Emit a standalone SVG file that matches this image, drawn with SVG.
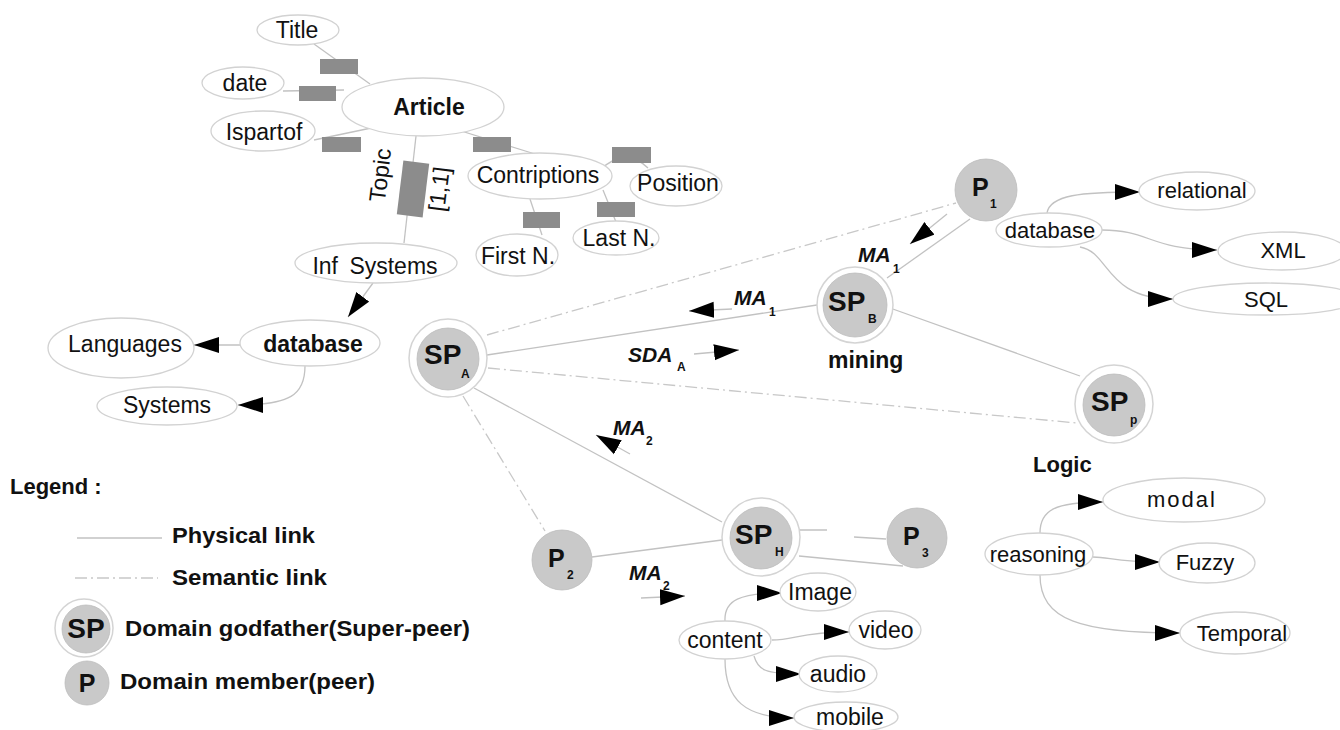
<svg xmlns="http://www.w3.org/2000/svg" width="1340" height="730" viewBox="0 0 1340 730">
<style>
.t{font-family:"Liberation Sans",Arial,sans-serif;font-size:23px;fill:#111}
.r{font-size:22px}
.b{font-weight:bold}
.m{text-anchor:middle}
.ma{font-family:"Liberation Sans",Arial,sans-serif;font-weight:bold;font-style:italic;font-size:21px;fill:#111}
.sub{font-family:"Liberation Sans",Arial,sans-serif;font-weight:bold;font-size:12px;fill:#111}
.ell{fill:#fff;stroke:#d2d2d2;stroke-width:1.3}
.lnk{fill:none;stroke:#c2c2c2;stroke-width:1.3}
.sem{fill:none;stroke:#c8c8c8;stroke-width:1.3;stroke-dasharray:12 4 2 4}
.arr{fill:none;stroke:#c2c2c2;stroke-width:1.3;marker-end:url(#ah)}
.lab{fill:#8c8c8c}
.ring{fill:#fff;stroke:#d4d4d4;stroke-width:1.5}
.core{fill:#c9c9c9;stroke:#bcbcbc;stroke-width:0.8}
.sp{font-family:"Liberation Sans",Arial,sans-serif;font-weight:bold;font-size:28px;fill:#111}
.p{font-family:"Liberation Sans",Arial,sans-serif;font-weight:bold;font-size:25px;fill:#111}
.lg{font-family:"Liberation Sans",Arial,sans-serif;font-weight:bold;font-size:22px;fill:#111}
</style>
<defs>
<marker id="ah" markerUnits="userSpaceOnUse" markerWidth="25" markerHeight="17" viewBox="0 0 25 17" refX="25" refY="8.5" orient="auto">
<path d="M0,0.5 L25,8.5 L0,16.5 Z" fill="#000"/>
</marker>
</defs>
<rect width="1340" height="730" fill="#fff"/>

<g id="connectors">
<!-- article schema -->
<path class="lnk" d="M314,44 L370,84"/>
<path class="lnk" d="M283,91 L344,90"/>
<path class="lnk" d="M314,140 L376,127"/>
<path class="lnk" d="M458,130 L535,154"/>
<path class="lnk" d="M416,136 L404,243"/>
<path class="lnk" d="M600,170 Q625,146 648,168"/>
<path class="lnk" d="M603,190 L616,222"/>
<path class="lnk" d="M530,199 L542,235"/>
<!-- left tree -->
<path class="arr" d="M373,283 L348,317"/>
<path class="arr" d="M240,345 L194,345"/>
<path class="arr" d="M305,366 C305,395 290,405 238,405"/>
<!-- network -->
<path class="lnk" d="M487,355 L817,305"/>
<path class="sem" d="M487,335 L956,203"/>
<path class="sem" d="M488,368 L1077,423"/>
<path class="lnk" d="M474,388 L722,522"/>
<path class="sem" d="M463,396 L545,531"/>
<path class="lnk" d="M970,219 L887,278"/>
<path class="lnk" d="M890,308 L1080,376"/>
<path class="lnk" d="M592,557 L722,540"/>
<path class="lnk" d="M800,530 L827,530 M854,537 L886,539"/>
<path class="lnk" d="M799,556 L903,566"/>
<!-- message arrows -->
<path class="arr" d="M947,214 L910,244"/>
<path class="arr" d="M732,309 L689,311"/>
<path class="arr" d="M694,354 L739,350"/>
<path class="arr" d="M630,454 L596,435"/>
<path class="arr" d="M641,598 L685,596"/>
<!-- database tree -->
<path class="arr" d="M1047,213 C1050,195 1080,192 1140,192"/>
<path class="arr" d="M1102,230 C1150,230 1150,250 1217,250"/>
<path class="arr" d="M1080,247 C1110,252 1105,299 1173,299"/>
<!-- content tree -->
<path class="arr" d="M725,621 C724,600 740,593 782,593"/>
<path class="arr" d="M772,640 C795,640 800,632 849,632"/>
<path class="arr" d="M754,656 C758,670 765,674 801,674"/>
<path class="arr" d="M725,659 C725,700 745,718 794,718"/>
<!-- reasoning tree -->
<path class="arr" d="M1040,533 C1040,510 1055,502 1103,502"/>
<path class="arr" d="M1093,557 C1110,557 1115,562 1160,562"/>
<path class="arr" d="M1040,575 C1040,620 1080,633 1180,633"/>
</g>

<g id="edge-labels">
<rect class="lab" x="320" y="59" width="38" height="15"/>
<rect class="lab" x="299" y="86" width="37" height="15"/>
<rect class="lab" x="322" y="137" width="39" height="15"/>
<rect class="lab" x="473" y="137" width="38" height="15"/>
<rect class="lab" x="612" y="147" width="39" height="16"/>
<rect class="lab" x="597" y="202" width="38" height="15"/>
<rect class="lab" x="523" y="212" width="37" height="16"/>
<rect class="lab" x="-13" y="-27" width="26" height="54" transform="translate(413,189) rotate(7)"/>
<text class="t" text-anchor="middle" transform="translate(388,176) rotate(-83)">Topic</text>
<text class="t" text-anchor="middle" transform="translate(447,190) rotate(-83)">[1,1]</text>
<text class="ma" x="858" y="262">MA</text><text class="sub" x="893" y="273">1</text>
<text class="ma" x="734" y="305">MA</text><text class="sub" x="769" y="316">1</text>
<text class="ma" x="628" y="362">SDA</text><text class="sub" x="677" y="371">A</text>
<text class="ma" x="613" y="435">MA</text><text class="sub" x="646" y="445">2</text>
<text class="ma" x="629" y="580">MA</text><text class="sub" x="663" y="590">2</text>
</g>

<g id="n-title"><ellipse class="ell" cx="298" cy="30" rx="41" ry="15"/><text class="t m" x="297" y="38">Title</text></g>
<g id="n-date"><ellipse class="ell" cx="243" cy="83" rx="41" ry="16"/><text class="t m" x="245" y="91">date</text></g>
<g id="n-article"><ellipse class="ell" cx="423" cy="107" rx="81" ry="29"/><text class="t m b" x="429" y="115">Article</text></g>
<g id="n-ispartof"><ellipse class="ell" cx="263" cy="131" rx="52" ry="20"/><text class="t m" x="264" y="140">Ispartof</text></g>
<g id="n-contriptions"><ellipse class="ell" cx="540" cy="176" rx="72" ry="23"/><text class="t m" x="538" y="183">Contriptions</text></g>
<g id="n-position"><ellipse class="ell" cx="676" cy="186" rx="46" ry="20"/><text class="t m" x="678" y="191">Position</text></g>
<g id="n-firstn"><ellipse class="ell" cx="517" cy="255" rx="41" ry="21"/><text class="t m" x="518" y="264">First N.</text></g>
<g id="n-lastn"><ellipse class="ell" cx="616" cy="238" rx="43" ry="17"/><text class="t m" x="619" y="246">Last N.</text></g>
<g id="n-infsystems"><ellipse class="ell" cx="376" cy="263" rx="81" ry="20"/><text class="t m" x="375" y="274" word-spacing="5">Inf Systems</text></g>
<g id="n-database-topic"><ellipse class="ell" cx="310" cy="343" rx="70" ry="23"/><text class="t m b" x="313" y="352">database</text></g>
<g id="n-languages"><ellipse class="ell" cx="121" cy="348" rx="73" ry="30"/><text class="t m" x="125" y="352">Languages</text></g>
<g id="n-systems"><ellipse class="ell" cx="167" cy="406" rx="70" ry="19"/><text class="t m" x="167" y="413">Systems</text></g>

<g id="n-spa"><circle class="ring" cx="448" cy="358" r="39"/><circle class="core" cx="448" cy="359" r="31"/><text class="sp" x="424" y="364">SP</text><text class="sub" x="461" y="378">A</text></g>
<g id="n-spb"><circle class="ring" cx="855" cy="305" r="38"/><circle class="core" cx="855" cy="305" r="32"/><text class="sp" x="828" y="311">SP</text><text class="sub" x="868" y="323">B</text><text class="t b" x="828" y="368">mining</text></g>
<g id="n-p1"><circle class="core" cx="986" cy="190" r="31"/><text class="p" x="972" y="196">P</text><text class="sub" x="990" y="208">1</text></g>
<g id="n-spp"><circle class="ring" cx="1114" cy="404" r="39"/><circle class="core" cx="1114" cy="405" r="31"/><text class="sp" x="1091" y="411">SP</text><text class="sub" x="1130" y="424">p</text><text class="t b r" x="1033" y="472">Logic</text></g>
<g id="n-sph"><circle class="ring" cx="761" cy="537" r="39"/><circle class="core" cx="761" cy="538" r="31"/><text class="sp" x="735" y="544">SP</text><text class="sub" x="775" y="556">H</text></g>
<g id="n-p2"><circle class="core" cx="562" cy="560" r="30"/><text class="p" x="548" y="567">P</text><text class="sub" x="567" y="579">2</text></g>
<g id="n-p3"><circle class="core" cx="917" cy="538" r="30"/><text class="p" x="903" y="545">P</text><text class="sub" x="922" y="557">3</text></g>

<g id="n-database"><ellipse class="ell" cx="1049" cy="230" rx="53" ry="17"/><text class="t r m" x="1050" y="238">database</text></g>
<g id="n-relational"><ellipse class="ell" cx="1197" cy="191" rx="58" ry="19"/><text class="t r m" x="1202" y="198">relational</text></g>
<g id="n-xml"><ellipse class="ell" cx="1282" cy="251" rx="64" ry="19"/><text class="t r m" x="1283" y="258">XML</text></g>
<g id="n-sql"><ellipse class="ell" cx="1266" cy="299" rx="93" ry="16"/><text class="t r m" x="1266" y="307">SQL</text></g>

<g id="n-content"><ellipse class="ell" cx="725" cy="640" rx="46" ry="19"/><text class="t m" x="725" y="648">content</text></g>
<g id="n-image"><ellipse class="ell" cx="818" cy="592" rx="38" ry="19"/><text class="t m" x="820" y="600">Image</text></g>
<g id="n-video"><ellipse class="ell" cx="885" cy="630" rx="36" ry="19"/><text class="t m" x="886" y="638">video</text></g>
<g id="n-audio"><ellipse class="ell" cx="838" cy="674" rx="39" ry="18"/><text class="t m" x="838" y="682">audio</text></g>
<g id="n-mobile"><ellipse class="ell" cx="846" cy="717" rx="52" ry="15"/><text class="t m" x="850" y="725">mobile</text></g>

<g id="n-reasoning"><ellipse class="ell" cx="1039" cy="554" rx="54" ry="21"/><text class="t r m" x="1038" y="562">reasoning</text></g>
<g id="n-modal"><ellipse class="ell" cx="1184" cy="500" rx="81" ry="22"/><text class="t r m" x="1182" y="507" letter-spacing="2">modal</text></g>
<g id="n-fuzzy"><ellipse class="ell" cx="1207" cy="563" rx="48" ry="20"/><text class="t r m" x="1205" y="570">Fuzzy</text></g>
<g id="n-temporal"><ellipse class="ell" cx="1235" cy="633" rx="55" ry="21"/><text class="t r m" x="1242" y="641">Temporal</text></g>

<g id="legend">
<text class="lg" x="10" y="494" font-size="20">Legend :</text>
<line class="lnk" x1="77" y1="538" x2="162" y2="538"/>
<text class="lg" x="172" y="543" textLength="143" lengthAdjust="spacingAndGlyphs">Physical link</text>
<line class="sem" x1="75" y1="578" x2="158" y2="578"/>
<text class="lg" x="172" y="585" textLength="155" lengthAdjust="spacingAndGlyphs">Semantic link</text>
<circle class="ring" cx="84" cy="628" r="29"/><circle class="core" cx="86" cy="629" r="24"/>
<text class="sp m" x="86" y="638" font-size="26" text-anchor="middle">SP</text>
<text class="lg" x="125" y="636" textLength="345" lengthAdjust="spacingAndGlyphs">Domain godfather(Super-peer)</text>
<circle class="core" cx="87" cy="683" r="22"/>
<text class="p" x="87" y="692" font-size="24" text-anchor="middle">P</text>
<text class="lg" x="120" y="689" textLength="255" lengthAdjust="spacingAndGlyphs">Domain member(peer)</text>
</g>
</svg>
